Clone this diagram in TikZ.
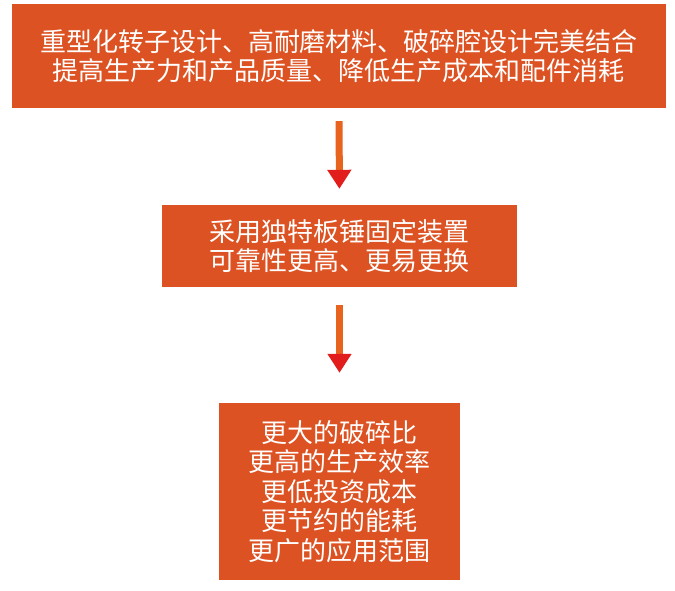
\documentclass[tikz,border=0pt]{standalone}
\usepackage{fontspec}
\newfontfamily\cjk{Noto Sans CJK SC}
\usetikzlibrary{arrows.meta}
\definecolor{boxorange}{RGB}{221,82,34}
\definecolor{shaftorange}{RGB}{232,100,30}
\definecolor{headred}{RGB}{226,30,28}
\tikzset{
  box/.style={fill=boxorange, draw=none, inner sep=0pt, align=center,
    text=white, font=\cjk\fontsize{26}{29.5}\selectfont},
  flowarrow/.style={draw=shaftorange, line width=7pt,
    -{Triangle[width=23pt,length=19pt,color=headred,fill=headred]}}
}
\begin{document}
\begin{tikzpicture}[x=1pt,y=-1pt]
\useasboundingbox (0,0) rectangle (675,591);
\node[box, minimum width=654pt, minimum height=104pt] (b1) at (339,56)
  {重型化转子设计、高耐磨材料、破碎腔设计完美结合\\提高生产力和产品质量、降低生产成本和配件消耗};
\node[box, minimum width=355pt, minimum height=82pt] (b2) at (339.5,246)
  {采用独特板锤固定装置\\可靠性更高、更易更换};
\node[box, minimum width=241pt, minimum height=177pt] (b3) at (339.5,491.5)
  {更大的破碎比\\更高的生产效率\\更低投资成本\\更节约的能耗\\更广的应用范围};
\draw[flowarrow, shorten <=13pt, shorten >=16pt] (b1.south) -- (b2.north);
\draw[flowarrow, shorten <=18pt, shorten >=30pt] (b2.south) -- (b3.north);
\end{tikzpicture}
\end{document}
